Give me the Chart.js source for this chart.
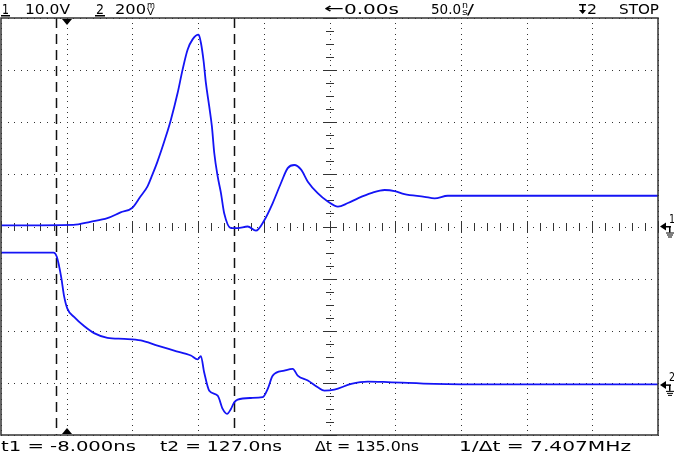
<!DOCTYPE html>
<html>
<head>
<meta charset="utf-8">
<script src="https://cdn.jsdelivr.net/npm/chart.js@4.4.0/dist/chart.umd.min.js"></script>
<style>
  html, body { margin: 0; padding: 0; background: #fff; }
</style>
</head>
<body>
<canvas id="scope" width="674" height="452"></canvas>
<script>
// channel 1, 10 V/div (time in ns)
const ch1Time = [-50, 5, 18, 31, 41, 50, 56, 61.5, 65.3, 69, 75.5, 79.3, 84.4, 88.2, 92, 95.8, 100.4, 102.1, 104.2, 105.9,
  108.5, 110.5, 112.3, 114.9, 117.4, 119.9, 125, 130, 137.7, 144, 150.4, 156.8, 163, 168.2, 173.2, 178.4, 183.5, 191,
  198.7, 206.4, 214, 221.6, 231.7, 242, 249.5, 257, 272.3, 280, 290, 330, 392, 450];
const ch1Volts = [0.2, 0.3, 0.9, 1.6, 2.7, 3.6, 5.7, 7.7, 10.0, 12.4, 17.3, 20.5, 25.6, 30.1, 33.9, 35.9, 36.8, 35.3, 31.7, 27.6,
  23.0, 19.2, 14.1, 9.6, 6.4, 2.5, -0.3, -0.3, 0, -0.8, 1.2, 4.5, 8.3, 11.2, 11.8, 10.9, 8.6, 6.4,
  4.8, 3.8, 4.5, 5.4, 6.4, 7.0, 6.8, 6.2, 5.7, 5.4, 5.9, 5.9, 5.9, 5.9];

// channel 2, 200 mV/div
const ch2Time = [-50, -20, -10, -7.6, -5.9, -4, -2.1, 0.5, 5.6, 13.2, 20.8, 31, 43.7, 56.4, 69.1, 81.8, 94.5, 99.6, 102.1, 104.6,
  108.5, 114.9, 118.7, 122, 125, 127.5, 130.1, 140.2, 149.2, 153, 156.8, 165.6, 172, 175.8, 183.5, 191.1, 196.1, 203.7,
  216.5, 229.2, 244.4, 280, 330, 392, 450];
const ch2mV = [500, 500, 500, 485, 451, 400, 336, 285, 253, 218, 191, 173, 169, 163, 143, 124, 105, 90, 103, 41,
  -30, -49, -100, -119, -100, -74, -64, -58, -55, -23, 28, 47, 54, 28, 9, -17, -30, -26,
  -4, 5, 3, -4, -6, -6, -6];

// cursors / trigger (ns)
const cursorT1 = -8.0;
const cursorT2 = 127.0;
const trigTime = 0;

// screen texts: [text, left, width]
const headerText = [['1', 2, 7], ['10.0V', 25, 45], ['2', 96, 8], ['200', 115, 31], ['0.00s', 344, 55],
  ['50.0', 431, 30], ['/', 467, 7], ['2', 587, 10], ['STOP', 619, 40]];
const footerText = [['t1 = -8.000ns', 1, 135], ['t2 = 127.0ns', 160, 122], ['\u0394t = 135.0ns', 315, 104],
  ['1/\u0394t = 7.407MHz', 459, 172]];

const FONT = '"DejaVu Sans"';

function fitText(ctx, text, x, base, width, size) {
  ctx.font = size + 'px ' + FONT;
  const w = ctx.measureText(text).width;
  ctx.save();
  ctx.translate(x, base);
  ctx.scale(width / w, 1);
  ctx.fillText(text, 0, 0);
  ctx.restore();
}

const graticule = {
  id: 'graticule',
  beforeDatasetsDraw(chart) {
    const { ctx, chartArea: a, scales } = chart;
    const xs = scales.x, ys = scales.y;
    ctx.save();
    ctx.fillStyle = '#333';
    // dotted grid lines
    for (let t = -50; t <= 450; t += 50) {
      const px = Math.round(xs.getPixelForValue(t));
      for (let v = -40; v <= 40; v += 1) {
        ctx.fillRect(px, Math.round(ys.getPixelForValue(v)), 1, 1);
      }
    }
    for (let v = -40; v <= 40; v += 10) {
      const py = Math.round(ys.getPixelForValue(v));
      for (let t = -50; t <= 450; t += 5) {
        ctx.fillRect(Math.round(xs.getPixelForValue(t)), py, 1, 1);
      }
    }
    // centre cross with minor ticks
    const cx = Math.round(xs.getPixelForValue(200));
    const cy = Math.round(ys.getPixelForValue(0));
    for (let t = -50; t <= 450; t += 10) {
      const px = Math.round(xs.getPixelForValue(t));
      const h = (t % 50 === 0) ? 6 : 4;
      ctx.fillRect(px, cy - h, 1, 2 * h);
    }
    for (let v = -40; v <= 40; v += 2.5) {
      const py = Math.round(ys.getPixelForValue(v));
      const w = (v % 10 === 0) ? 6 : 4;
      ctx.fillRect(cx - w, py, 2 * w, 1);
    }
    // cursors
    ctx.strokeStyle = '#111';
    ctx.lineWidth = 1.5;
    ctx.setLineDash([10, 6]);
    [cursorT1, cursorT2].forEach(t => {
      const px = Math.round(xs.getPixelForValue(t)) + 0.5;
      ctx.beginPath();
      ctx.moveTo(px, a.top);
      ctx.lineTo(px, a.bottom);
      ctx.stroke();
    });
    ctx.restore();
  },
  afterDraw(chart) {
    const { ctx, chartArea: a, scales } = chart;
    const xs = scales.x, ys = scales.y, y2 = scales.y2;
    ctx.save();
    // frame
    ctx.strokeStyle = '#333';
    ctx.lineWidth = 1.5;
    ctx.strokeRect(a.left, a.top, a.right - a.left, a.bottom - a.top);
    ctx.fillStyle = '#000';
    // trigger markers
    const tx = Math.round(xs.getPixelForValue(trigTime));
    ctx.beginPath();
    ctx.moveTo(tx - 5, a.top + 1); ctx.lineTo(tx + 5, a.top + 1); ctx.lineTo(tx, a.top + 7);
    ctx.fill();
    ctx.beginPath();
    ctx.moveTo(tx - 5, a.bottom - 1); ctx.lineTo(tx + 5, a.bottom - 1); ctx.lineTo(tx, a.bottom - 7);
    ctx.fill();
    // ground markers on the right
    [[ys.getPixelForValue(0), '1'], [y2.getPixelForValue(0) + 2, '2']].forEach(([gy, lab]) => {
      const x0 = a.right + 2;
      ctx.beginPath();
      ctx.moveTo(x0, gy); ctx.lineTo(x0 + 6, gy - 4); ctx.lineTo(x0 + 6, gy + 4);
      ctx.fill();
      ctx.fillRect(x0 + 6, gy - 0.5, 5, 1.5);
      ctx.fillRect(x0 + 9, gy, 1.5, 6);
      ctx.fillRect(x0 + 6, gy + 6, 8, 1);
      ctx.fillRect(x0 + 7, gy + 8, 6, 1);
      ctx.fillRect(x0 + 8, gy + 10, 4, 1);
      fitText(ctx, lab, x0 + 9, gy - 4, 6, 12);
    });
    // header
    headerText.forEach(([txt, x, w]) => fitText(ctx, txt, x, 14, w, 14));
    ctx.fillRect(1, 15, 9, 1.5);
    ctx.fillRect(95, 15, 10, 1.5);
    fitText(ctx, 'm', 147, 8, 8, 8);
    fitText(ctx, 'V', 147, 14.5, 7, 8);
    fitText(ctx, 'n', 462, 8, 6, 8);
    fitText(ctx, 's', 462, 14.5, 6, 8);
    fitText(ctx, '\u2190', 324, 13, 20, 14);
    // trigger-slope symbol
    ctx.fillRect(579, 4, 7, 1.5);
    ctx.fillRect(582, 4, 1.5, 9);
    ctx.beginPath();
    ctx.moveTo(579, 10); ctx.lineTo(586, 10); ctx.lineTo(582.7, 14);
    ctx.fill();
    // footer
    footerText.forEach(([txt, x, w]) => fitText(ctx, txt, x, 451, w, 14));
    ctx.restore();
  }
};

new Chart(document.getElementById('scope'), {
  type: 'line',
  data: {
    datasets: [
      {
        label: 'CH1',
        data: ch1Time.map((t, i) => ({ x: t, y: ch1Volts[i] })),
        yAxisID: 'y',
        borderColor: '#1414f5',
        borderWidth: 1.8,
        pointRadius: 0,
        cubicInterpolationMode: 'monotone'
      },
      {
        label: 'CH2',
        data: ch2Time.map((t, i) => ({ x: t, y: ch2mV[i] })),
        yAxisID: 'y2',
        borderColor: '#1414f5',
        borderWidth: 1.8,
        pointRadius: 0,
        cubicInterpolationMode: 'monotone'
      }
    ]
  },
  options: {
    responsive: false,
    animation: false,
    layout: { padding: { left: 1, top: 18, right: 16, bottom: 17 } },
    plugins: { legend: { display: false }, tooltip: { enabled: false } },
    scales: {
      x: { type: 'linear', min: -50, max: 450, display: false },
      y: { min: -40, max: 40, display: false },
      y2: { min: -200, max: 1400, display: false }
    }
  },
  plugins: [graticule]
});
</script>
</body>
</html>
